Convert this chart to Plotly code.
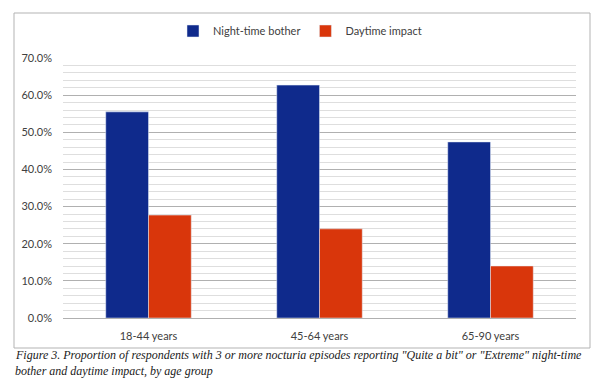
import plotly.graph_objects as go

categories = ["18-44 years", "45-64 years", "65-90 years"]
night_time_bother = [0.555, 0.627, 0.474]
daytime_impact = [0.277, 0.240, 0.140]
series_names = ["Night-time bother", "Daytime impact"]
caption_lines = [
    'Figure 3. Proportion of respondents with 3 or more nocturia episodes reporting "Quite a bit" or "Extreme" night-time',
    'bother and daytime impact, by age group',
]

W, H = 601, 387
L, R, T, B = 63, 576, 58, 318
pw, ph = R - L, B - T

def px(x):
    return (x - L) / pw

def py(y):
    return (B - y) / ph

fig = go.Figure()
fig.add_bar(x=categories, y=night_time_bother, name=series_names[0], marker_color="#0f2a8c")
fig.add_bar(x=categories, y=daytime_impact, name=series_names[1], marker_color="#d9360b")

fig.update_layout(
    width=W, height=H,
    margin=dict(l=L, r=W - R, t=T, b=H - B),
    paper_bgcolor="white", plot_bgcolor="white",
    barmode="group", bargap=0.5, bargroupgap=0,
    hovermode=False,
    font=dict(family="Lato, Open Sans, sans-serif", size=11, color="#404040"),
    legend=dict(orientation="h", x=px(300), xanchor="center", y=py(31), yanchor="middle",
                font=dict(size=11, color="#404040"), traceorder="normal",
                bgcolor="rgba(0,0,0,0)"),
    showlegend=True,
)
fig.update_yaxes(
    range=[0, 0.7], dtick=0.1, tickformat=".1%",
    showgrid=True, gridcolor="#b0b0b0", gridwidth=1,
    minor=dict(dtick=0.02, showgrid=True, gridcolor="#dedede", gridwidth=1),
    zeroline=False, showline=False, ticks="", ticklabelstandoff=10,
    tickfont=dict(size=11, color="#404040"),
)
fig.update_xaxes(
    showline=True, linecolor="#b0b0b0", linewidth=1, ticks="", ticklabelstandoff=8,
    tickfont=dict(size=11, color="#404040"),
)

# outer chart border
fig.add_shape(type="rect", xref="paper", yref="paper",
              x0=px(14), x1=px(590), y0=py(348), y1=py(13),
              line=dict(color="#b3b3b3", width=1), fillcolor="rgba(0,0,0,0)", layer="below")

for i, line in enumerate(caption_lines):
    fig.add_annotation(
        xref="paper", yref="paper", x=px(13), y=py(355 + 16 * i), xanchor="left", yanchor="middle",
        text="<i>" + line + "</i>", showarrow=False, align="left",
        font=dict(family="Liberation Serif, Times New Roman, serif", size=12, color="#1a1a1a"),
    )

fig.write_html("out.html", config={"displayModeBar": False, "staticPlot": True},
               post_script="document.body.style.margin='0';document.body.style.overflow='hidden';")
